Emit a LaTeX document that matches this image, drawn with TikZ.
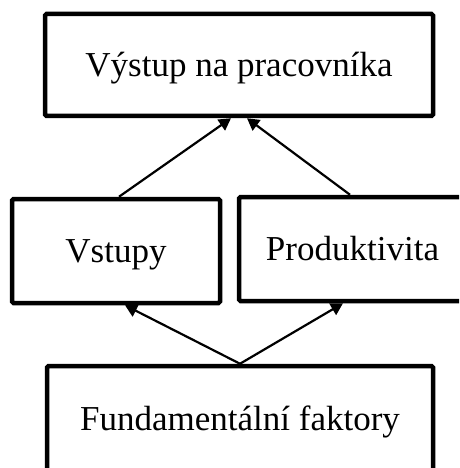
\documentclass[tikz,border=0pt]{standalone}
\usepackage{fontspec}
\setmainfont{Liberation Serif}
\usetikzlibrary{arrows.meta}
\begin{document}
\begin{tikzpicture}[x=1pt,y=-1pt,
  box/.style={draw=black,line width=4.5pt,rounded corners=1.5pt,inner sep=0pt,
    font=\fontsize{35}{40}\selectfont,text height=23pt,text depth=0pt},
  conn/.style={line width=2.2pt,-{Triangle[length=12pt,width=13pt]}}]
\useasboundingbox (0,0) rectangle (459,468);
\clip (0,0) rectangle (459,468);
\node[box,minimum width=388pt,minimum height=102pt] (top) at (239,65) {Výstup na pracovníka};
\node[box,minimum width=208pt,minimum height=104pt] (vst) at (116,251) {Vstupy};
\node[box,minimum width=227pt,minimum height=104pt] (prod) at (352.5,249) {Produktivita};
\node[box,minimum width=386pt,minimum height=106pt] (bot) at (240,419) {Fundamentální faktory};
\draw[conn] ([xshift=3pt]vst.north) -- ([xshift=-8pt]top.south);
\draw[conn] ([xshift=-2.5pt]prod.north) -- ([xshift=8pt]top.south);
\draw[conn] (bot.north) -- ([xshift=9pt]vst.south);
\draw[conn] (bot.north) -- ([xshift=-9.5pt]prod.south);
\end{tikzpicture}
\end{document}
